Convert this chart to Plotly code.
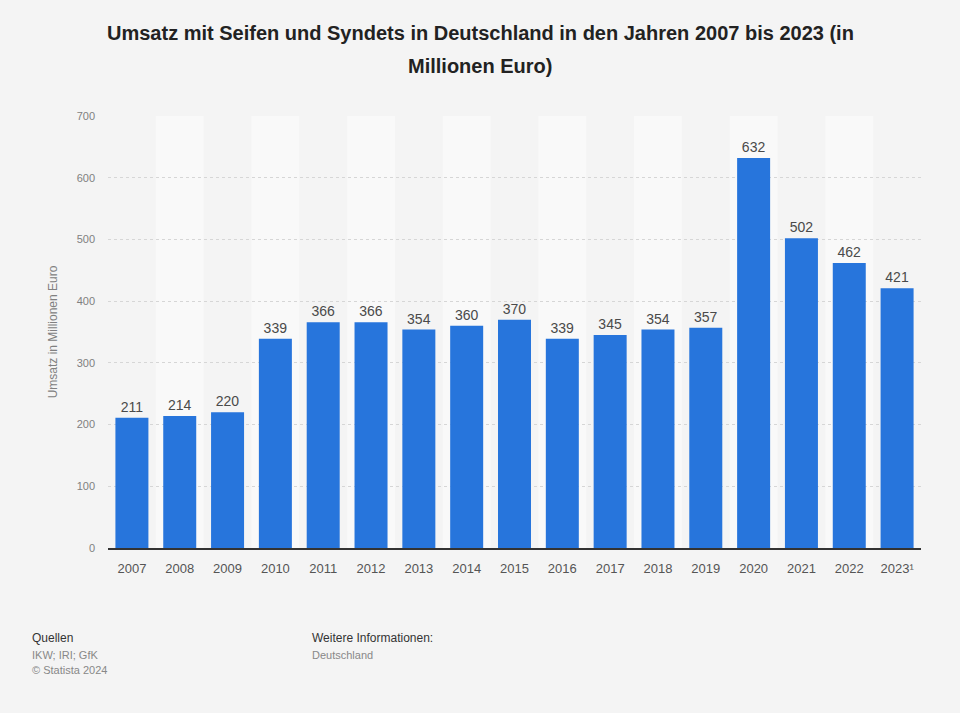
import plotly.graph_objects as go

years = ["2007", "2008", "2009", "2010", "2011", "2012", "2013", "2014", "2015",
         "2016", "2017", "2018", "2019", "2020", "2021", "2022", "2023¹"]
umsatz = [211, 214, 220, 339, 366, 366, 354, 360, 370, 339, 345, 354, 357, 632, 502, 462, 421]
y_ticks = [0, 100, 200, 300, 400, 500, 600, 700]

FONT = "Liberation Sans, Arial, sans-serif"
W, H = 960, 713
L, R, T, B = 108, 39, 116, 165
PW, PH = W - L - R, H - T - B


def px(x):
    return (x - L) / PW


def py(y):
    return (H - B - y) / PH


fig = go.Figure()
fig.add_trace(go.Bar(
    x=list(range(len(years))), y=umsatz,
    marker=dict(color="#2775dc", line=dict(width=0)),
    text=[str(v) for v in umsatz], textposition="outside",
    textfont=dict(family=FONT, size=14, color="#4a4a4a"),
    cliponaxis=False, width=0.69, hoverinfo="skip",
))

shapes = []
for i in range(len(years)):
    if i % 2 == 1:
        shapes.append(dict(type="rect", xref="x", yref="paper", x0=i - 0.5, x1=i + 0.5,
                           y0=0, y1=1, fillcolor="#f9f9f9", line=dict(width=0), layer="below"))

annotations = [
    dict(text="<b>Umsatz mit Seifen und Syndets in Deutschland in den Jahren 2007 bis 2023 (in</b>",
         x=px(480), y=py(33), xanchor="center", yanchor="middle",
         font=dict(family=FONT, size=20, color="#222222")),
    dict(text="<b>Millionen Euro)</b>",
         x=px(480), y=py(66), xanchor="center", yanchor="middle",
         font=dict(family=FONT, size=20, color="#222222")),
    dict(text="Quellen", x=px(30), y=py(638), font=dict(family=FONT, size=12, color="#333333")),
    dict(text="IKW; IRI; GfK", x=px(30), y=py(655), font=dict(family=FONT, size=11, color="#888888")),
    dict(text="© Statista 2024", x=px(30), y=py(670), font=dict(family=FONT, size=11, color="#888888")),
    dict(text="Weitere Informationen:", x=px(310), y=py(638), font=dict(family=FONT, size=12, color="#333333")),
    dict(text="Deutschland", x=px(310), y=py(655), font=dict(family=FONT, size=11, color="#888888")),
]
for a in annotations:
    a.setdefault("xanchor", "left")
    a.setdefault("yanchor", "middle")
    a.update(xref="paper", yref="paper", showarrow=False)

fig.update_layout(
    width=W, height=H,
    paper_bgcolor="#f4f4f4", plot_bgcolor="#f4f4f4",
    margin=dict(l=L, r=R, t=T, b=B),
    showlegend=False,
    shapes=shapes,
    annotations=annotations,
    xaxis=dict(tickmode="array", tickvals=list(range(len(years))), ticktext=years,
               range=[-0.5, len(years) - 0.5], showgrid=False, zeroline=False,
               showline=True, linecolor="#333333", linewidth=1.5, ticks="",
               ticklabelstandoff=8,
               tickfont=dict(family=FONT, size=13, color="#555555")),
    yaxis=dict(range=[0, 700], tickvals=y_ticks, showgrid=True, gridcolor="#d6d6d6",
               griddash="dot", gridwidth=1, zeroline=False, ticks="",
               ticklabelstandoff=12,
               tickfont=dict(family=FONT, size=11, color="#808080"),
               title=dict(text="Umsatz in Millionen Euro", standoff=16,
                          font=dict(family=FONT, size=12, color="#808080"))),
)

fig.write_html("out.html", config={"displayModeBar": False},
               post_script="document.body.style.margin='0';document.body.style.overflow='hidden';")
